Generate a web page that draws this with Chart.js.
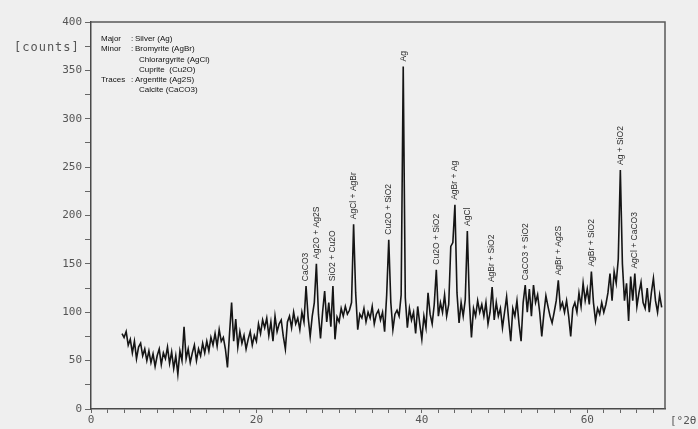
<!DOCTYPE html>
<html>
<head>
<meta charset="utf-8">
<script src="https://cdn.jsdelivr.net/npm/chart.js@4.4.3/dist/chart.umd.min.js"></script>
<style>
  html, body { margin: 0; padding: 0; background: #efefef; }
  #wrap { width: 698px; height: 429px; }
</style>
</head>
<body>
<div id="wrap"><canvas id="xrd"></canvas></div>
<script>
// Diffractogram, counts sampled every 0.25 deg 2theta starting at 3.75
const thetaStart = 3.75;
const thetaStep = 0.25;
const counts = [
  78,
  74, 80, 66, 72,     // 4
  58, 70, 52, 64,     // 5
  68, 55, 62, 50,     // 6
  60, 48, 57, 44,     // 7
  55, 62, 46, 58,     // 8
  52, 64, 47, 59,     // 9
  42, 55, 36, 60,     // 10
  50, 85, 52, 62,     // 11
  48, 58, 66, 50,     // 12
  62, 55, 68, 58,     // 13
  70, 60, 74, 66,     // 14
  78, 65, 82, 70,     // 15
  74, 62, 43, 78,     // 16
  110, 70, 93, 64,    // 17
  80, 68, 76, 62,     // 18
  72, 80, 66, 76,     // 19
  70, 88, 78, 92,     // 20
  84, 94, 76, 90,     // 21
  70, 96, 80, 88,     // 22
  92, 75, 62, 90,     // 23
  96, 84, 100, 88,    // 24
  94, 82, 100, 90,    // 25
  127, 95, 75, 96,    // 26
  110, 150, 98, 73,   // 27
  100, 122, 90, 110,  // 28
  85, 127, 72, 95,    // 29
  90, 104, 96, 106,   // 30
  98, 102, 110, 191,  // 31
  120, 82, 98, 94,    // 32
  104, 90, 100, 94,   // 33
  106, 88, 98, 102,   // 34
  92, 100, 80, 118,   // 35
  175, 110, 82, 98,   // 36
  102, 96, 118, 354,  // 37
  115, 84, 104, 92,   // 38
  100, 78, 106, 88,   // 39
  72, 96, 84, 120,    // 40
  98, 88, 108, 144,   // 41
  96, 110, 100, 118,  // 42
  96, 108, 168, 172,  // 43
  211, 120, 89, 110,  // 44
  96, 113, 184, 110,  // 45
  74, 104, 96, 112,   // 46
  100, 108, 96, 110,  // 47
  88, 100, 126, 92,   // 48
  110, 96, 104, 84,   // 49
  100, 116, 92, 70,   // 50
  104, 96, 112, 88,   // 51
  70, 110, 128, 100,  // 52
  124, 96, 128, 110,  // 53
  118, 100, 75, 98,   // 54
  117, 106, 96, 89,   // 55
  100, 112, 133, 104, // 56
  110, 100, 112, 96,  // 57
  75, 104, 110, 100,  // 58
  120, 106, 130, 112, // 59
  124, 108, 142, 110, // 60
  91, 104, 98, 110,   // 61
  100, 108, 120, 140, // 62
  112, 142, 130, 155, // 63
  247, 150, 112, 130, // 64
  91, 137, 112, 140,  // 65
  106, 120, 131, 110, // 66
  104, 125, 100, 120, // 67
  135, 112, 100, 118, // 68
  105
];

// Peak assignments (2theta of the labelled reflection)
const peakTheta = [26.0, 27.25, 29.25, 31.75, 36.0, 37.75, 41.75, 44.0, 45.5, 48.5, 52.5, 56.5, 60.5, 64.0, 65.75];
const peakNames = [
  'CaCO3', 'Ag2O + Ag2S', 'SiO2 + Cu2O', 'AgCl + AgBr', 'Cu2O + SiO2', 'Ag',
  'Cu2O + SiO2', 'AgBr + Ag', 'AgCl', 'AgBr + SiO2', 'CaCO3 + SiO2',
  'AgBr + Ag2S', 'AgBr + SiO2', 'Ag + SiO2', 'AgCl + CaCO3'
];

// Phase summary box
const phaseRoles = ['Major', 'Minor', '', '', 'Traces', ''];
const phaseNames = ['Silver (Ag)', 'Bromyrite (AgBr)', 'Chlorargyrite (AgCl)', 'Cuprite  (Cu2O)', 'Argentite (Ag2S)', 'Calcite (CaCO3)'];

const xMax = 69.4;
const yTickLabels = [0, 50, 100, 150, 200, 250, 300, 350, 400];
const xTickLabels = [0, 20, 40, 60];

const points = counts.map((c, i) => ({ x: thetaStart + i * thetaStep, y: c }));

const annotate = {
  id: 'annotate',
  afterDatasetsDraw(chart) {
    const { ctx, chartArea: a, scales: { x, y } } = chart;
    ctx.save();

    // top and right frame lines
    ctx.strokeStyle = '#5a5a5a';
    ctx.lineWidth = 1.5;
    ctx.beginPath();
    ctx.moveTo(a.left, a.top);
    ctx.lineTo(a.right, a.top);
    ctx.lineTo(a.right, a.bottom);
    ctx.stroke();

    // peak labels, rotated, sitting just above each peak
    ctx.font = '8.5px "Liberation Sans", Arial, sans-serif';
    ctx.fillStyle = '#2a2a2a';
    ctx.textBaseline = 'middle';
    ctx.textAlign = 'left';
    peakTheta.forEach((t, i) => {
      const idx = Math.round((t - thetaStart) / thetaStep);
      const px = x.getPixelForValue(t);
      const py = y.getPixelForValue(counts[idx]) - 5;
      ctx.save();
      ctx.translate(px, py);
      ctx.rotate(-Math.PI / 2);
      ctx.fillText(peakNames[i], 0, 0);
      ctx.restore();
    });

    // phase summary
    ctx.font = '8px "Liberation Sans", Arial, sans-serif';
    ctx.fillStyle = '#111';
    phaseNames.forEach((n, i) => {
      const ty = 39 + i * 10.2;
      if (phaseRoles[i]) {
        ctx.fillText(phaseRoles[i], 101, ty);
        ctx.fillText(':', 131, ty);
        ctx.fillText(n, 135, ty);
      } else {
        ctx.fillText(n, 139, ty);
      }
    });

    // axis units
    ctx.font = '12px "DejaVu Sans Mono", monospace';
    ctx.fillStyle = '#555';
    ctx.letterSpacing = '1px';
    ctx.fillText('[counts]', 14, 48);
    ctx.font = '11px "DejaVu Sans Mono", monospace';
    ctx.letterSpacing = '0px';
    ctx.fillText('[°2θ', 670, 421);
    ctx.restore();
  }
};

new Chart(document.getElementById('xrd'), {
  type: 'line',
  data: {
    datasets: [{
      data: points,
      borderColor: '#151515',
      borderWidth: 1.6,
      pointRadius: 0,
      tension: 0,
      fill: false
    }]
  },
  options: {
    responsive: true,
    maintainAspectRatio: false,
    animation: false,
    devicePixelRatio: 1,
    layout: { padding: { top: 22, right: 33, left: 0, bottom: 0 } },
    plugins: { legend: { display: false }, tooltip: { enabled: false } },
    scales: {
      x: {
        type: 'linear',
        min: 0,
        max: xMax,
        afterFit: s => { s.height = 20; },
        border: { color: '#4a4a4a', width: 1.5 },
        grid: { drawOnChartArea: false, tickLength: 4, color: '#666' },
        ticks: {
          stepSize: 2,
          includeBounds: false,
          autoSkip: false,
          maxRotation: 0,
          padding: 1,
          color: '#555',
          font: { family: '"DejaVu Sans Mono", monospace', size: 11 },
          callback: v => xTickLabels.includes(v) ? v : ''
        }
      },
      y: {
        min: 0,
        max: 400,
        afterFit: s => { s.width = 91; },
        border: { color: '#4a4a4a', width: 1.5 },
        grid: { drawOnChartArea: false, tickLength: 6, color: '#666' },
        ticks: {
          stepSize: 25,
          autoSkip: false,
          padding: 3,
          color: '#555',
          font: { family: '"DejaVu Sans Mono", monospace', size: 11 },
          callback: v => yTickLabels.includes(v) ? v : ''
        }
      }
    }
  },
  plugins: [annotate]
});
</script>
</body>
</html>
